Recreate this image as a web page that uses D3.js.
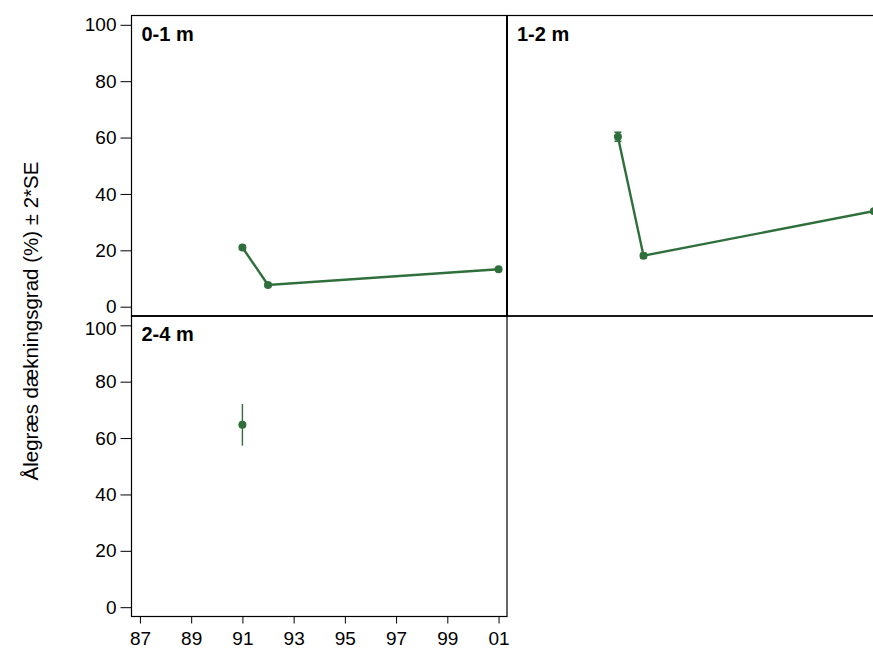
<!DOCTYPE html>
<html><head><meta charset="utf-8">
<script src="https://cdn.jsdelivr.net/npm/d3@7"></script>
<style>body{margin:0;background:#fff}svg{display:block}text{font-family:"Liberation Sans",Arial,sans-serif}</style>
</head><body>
<svg id="c" width="873" height="648"></svg>
<script>
// ---- data ----
const panels = ["0-1 m", "1-2 m", "2-4 m"];
const years01 = [1991, 1992, 2001];
const cover01 = [21.0, 7.7, 13.3];
const err01 = [0.6, 0.5, 0.5];
const years12 = [1991, 1992, 2001];
const cover12 = [60.3, 18.1, 33.9];
const err12 = [1.6, 0.8, 0.6];
const years24 = [1991];
const cover24 = [64.7];
const err24 = [7.4];
const xTicks = [1987, 1989, 1991, 1993, 1995, 1997, 1999, 2001];
const xTickLabels = ["87", "89", "91", "93", "95", "97", "99", "01"];
const yTicks = [0, 20, 40, 60, 80, 100];
const yTitle = "Ålegræs dækningsgrad (%) ± 2*SE";

const series = [
  {name: panels[0], years: years01, cover: cover01, err: err01},
  {name: panels[1], years: years12, cover: cover12, err: err12},
  {name: panels[2], years: years24, cover: cover24, err: err24}
];

// ---- layout ----
const svg = d3.select("#c");
const green = "#2f6f3b";
const padL = 131.5, padT = 15.5, pw = 375.5, ph = 300.5;
const pos = [[padL, padT], [padL + pw, padT], [padL, padT + ph]];
const x = d3.scaleLinear().domain([1986.67, 2001.33]).range([0, pw]);
const y = d3.scaleLinear().domain([-3.3, 103.3]).range([ph, 0]);

series.forEach((s, i) => {
  const [px, py] = pos[i];
  const g = svg.append("g").attr("transform", `translate(${px},${py})`);
  g.append("rect").attr("width", pw).attr("height", ph)
    .attr("fill", "none").attr("stroke", "#000").attr("stroke-width", 1.2);
  g.append("text").attr("x", 10).attr("y", 25)
    .attr("font-size", 20).attr("font-weight", "bold").text(s.name);
  const pts = s.years.map((yr, k) => ({yr, v: s.cover[k], e: s.err[k]}));
  if (pts.length > 1) {
    g.append("path").datum(pts)
      .attr("d", d3.line().x(d => x(d.yr)).y(d => y(d.v)))
      .attr("fill", "none").attr("stroke", green).attr("stroke-width", 2.4);
  }
  const capped = pts.length > 1;
  pts.forEach(d => {
    g.append("line").attr("x1", x(d.yr)).attr("x2", x(d.yr))
      .attr("y1", y(d.v - d.e)).attr("y2", y(d.v + d.e))
      .attr("stroke", green).attr("stroke-width", capped ? 2 : 1.4);
    if (capped) {
      [d.v - d.e, d.v + d.e].forEach(v => g.append("line")
        .attr("x1", x(d.yr) - 3.5).attr("x2", x(d.yr) + 3.5)
        .attr("y1", y(v)).attr("y2", y(v))
        .attr("stroke", green).attr("stroke-width", 1.5));
    }
    g.append("circle").attr("cx", x(d.yr)).attr("cy", y(d.v)).attr("r", 4)
      .attr("fill", green);
  });
  if (i !== 1) {
    const ya = g.append("g").call(d3.axisLeft(y).tickValues(yTicks).tickSize(11).tickPadding(4).tickFormat(d3.format("d")));
    ya.select(".domain").remove();
    ya.selectAll("text").attr("font-size", 19).attr("fill", "#000").attr("font-family", "Liberation Sans, Arial, sans-serif");
    ya.selectAll("line").attr("stroke", "#000");
    if (i === 2) {
      ya.selectAll(".tick").filter(d => d === 100).select("text").attr("dy", "0.5em");
    }
  }
  if (i === 2) {
    const xa = g.append("g").attr("transform", `translate(0,${ph})`)
      .call(d3.axisBottom(x).tickValues(xTicks).tickSize(7).tickPadding(8)
        .tickFormat((d, k) => xTickLabels[k]));
    xa.select(".domain").remove();
    xa.selectAll("text").attr("font-size", 19).attr("fill", "#000").attr("font-family", "Liberation Sans, Arial, sans-serif");
    xa.selectAll("line").attr("stroke", "#000");
  }
});

svg.append("line").attr("x1", padL + pw).attr("x2", padL + pw).attr("y1", padT).attr("y2", padT + ph)
  .attr("stroke", "#000").attr("stroke-width", 2);
svg.append("line").attr("x1", padL).attr("x2", 873).attr("y1", padT + ph).attr("y2", padT + ph)
  .attr("stroke", "#000").attr("stroke-width", 1.6);

svg.append("text")
  .attr("transform", `translate(38,321) rotate(-90)`)
  .attr("text-anchor", "middle").attr("font-size", 20.5).text(yTitle);
</script>
</body></html>
